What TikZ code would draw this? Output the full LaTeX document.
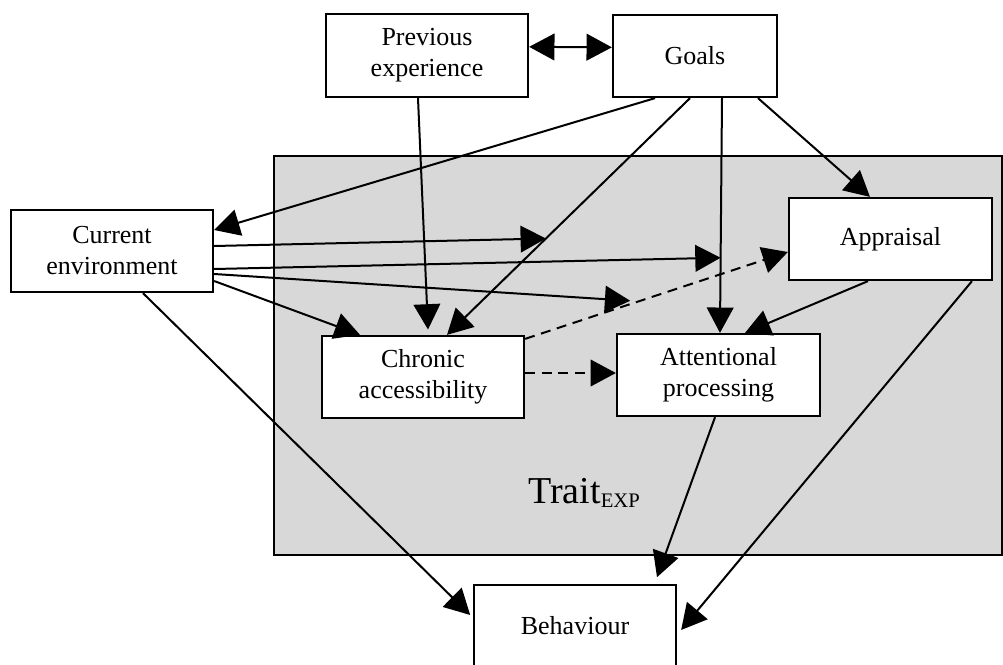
\documentclass[tikz,border=0pt]{standalone}
\usepackage{fontspec}
\setmainfont{Liberation Serif}
\usetikzlibrary{arrows.meta,calc}
\definecolor{traitgray}{RGB}{216,216,216}
\tikzset{
  box/.style={draw=black, line width=1.7pt, fill=white, inner sep=0pt, align=center,
    minimum width=151.5pt, minimum height=61.5pt,
    font=\fontsize{19.5}{23.25}\selectfont},
  arr/.style={line width=1.5pt, -{Triangle[length=19pt,width=20pt]}},
  darr/.style={line width=1.5pt, {Triangle[length=19pt,width=20pt]}-{Triangle[length=19pt,width=20pt]}},
  dasharr/.style={arr, dash pattern=on 7.5pt off 5pt},
}
\begin{document}
\begin{tikzpicture}[x=0.75pt,y=-0.75pt]
\useasboundingbox (0,0) rectangle (1003,664);
% trait region
\node[draw=black, line width=1.6pt, fill=traitgray, inner sep=0pt,
      minimum width=546pt, minimum height=299.25pt] (traitbox) at (638,355.5) {};
\node[anchor=base west, inner sep=0pt] (trait) at (528,503)
  {\fontsize{28.5}{30}\selectfont Trait\raisebox{-3pt}{\fontsize{15.5}{17}\selectfont EXP}};
% nodes
\node[box, minimum height=62.25pt] (prev) at (427,55.5) {Previous\\experience};
\node[box, minimum width=123pt] (goals) at (695,56) {Goals};
\node[box] (ce) at (112,251) {Current\\environment};
\node[box, minimum width=152.25pt] (appr) at (890.5,239) {Appraisal};
\node[box] (chron) at (423,377) {Chronic\\accessibility};
\node[box, minimum width=152.25pt] (att) at (718.5,375) {Attentional\\processing};
\node[box] (beh) at (575,626) {Behaviour};
% helper points on the arrows that are moderated
\coordinate (g1) at ([xshift=-3.75pt]goals.south);
\coordinate (c1) at ([xshift=18pt]chron.north);
\coordinate (g2) at ([xshift=20.25pt]goals.south);
\coordinate (a2) at ([xshift=1.1pt]att.north);
\coordinate (c3) at ([yshift=-3pt]chron.north east);
\coordinate (p3) at ([yshift=-9.75pt]appr.west);
\coordinate (m1) at ($(g1)!0.593!(c1)$);
\coordinate (m2) at ($(g2)!0.68!(a2)$);
\coordinate (m3) at ($(c3)!0.40!(p3)$);
% connectors
\draw[darr] ([yshift=6.5pt]prev.east) -- ([yshift=6.5pt]goals.west);
\draw[arr] ([xshift=-30pt]goals.south) -- ([yshift=15.75pt]ce.east);
\draw[arr] (g1) -- (c1);
\draw[arr] (g2) -- (a2);
\draw[arr] ([xshift=47.25pt]goals.south) -- ([xshift=-15.4pt]appr.north);
\draw[arr] ([xshift=-6.75pt]prev.south) -- ([xshift=3.75pt,yshift=4pt]chron.north);
\draw[arr] ([yshift=3.75pt]ce.east) -- (m1);
\draw[arr] ([yshift=-13.5pt]ce.east) -- (m2);
\draw[arr] ([yshift=-17.25pt]ce.east) -- ([yshift=2.5pt]m3);
\draw[arr] ([yshift=-22.5pt]ce.east) -- ([xshift=-47.25pt]chron.north);
\draw[arr] ([xshift=23.25pt]ce.south) -- ([yshift=8.25pt,xshift=-2pt]beh.west);
\draw[dasharr] ([yshift=3pt]chron.east) -- ([yshift=1.5pt]att.west);
\draw[dasharr] (c3) -- (p3);
\draw[arr] ([xshift=-16.9pt]appr.south) -- ([xshift=19.9pt]att.north);
\draw[arr] ([xshift=61.1pt]appr.south) -- ([yshift=-3pt,xshift=3pt]beh.east);
\draw[arr] ([xshift=-2.6pt]att.south) -- ([xshift=61.5pt,yshift=5pt]beh.north);
\end{tikzpicture}
\end{document}
